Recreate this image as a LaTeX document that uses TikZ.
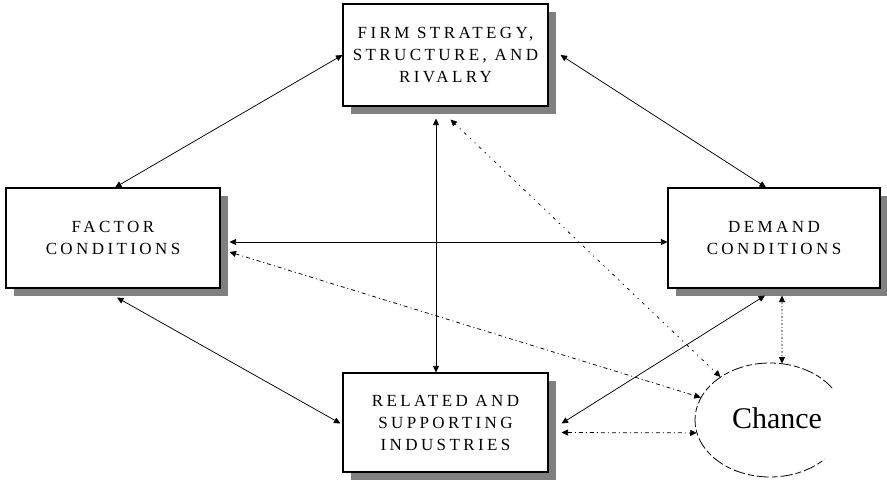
\documentclass[tikz,border=0pt]{standalone}
\usepackage{fontspec}
\setmainfont{Liberation Serif}
\newfontfamily\boxfont[LetterSpace=20]{Liberation Serif}
\usetikzlibrary{arrows.meta,calc,shadows,shapes.geometric}
\begin{document}
\begin{tikzpicture}[x=1pt,y=-1pt,
  box/.style={draw=black, line width=1.1pt, fill=white, inner sep=0pt,
    align=center, font=\boxfont\fontsize{17}{22}\selectfont,
    drop shadow={shadow xshift=8pt, shadow yshift=-8pt, fill=black!50, opacity=1}},
  conn/.style={line width=0.75pt, {Triangle[length=6.5pt,width=6pt]}-{Triangle[length=6.5pt,width=6pt]}},
  dashdot/.style={conn, dash pattern=on 4pt off 3pt on 1pt off 3pt},
  sparse/.style={conn, dash pattern=on 1.5pt off 5pt on 1pt off 5pt on 3pt off 5pt},
  dotline/.style={conn, dash pattern=on 2pt off 2pt on 1pt off 2pt},
  chancearc/.style={line width=0.8pt, dash pattern=on 12pt off 3pt on 6pt off 3pt}]
\useasboundingbox (0,0) rectangle (887,482);
\node[box, minimum width=205pt, minimum height=102pt] (firm) at (445.5,55) {FIRM STRATEGY,\\STRUCTURE, AND\\RIVALRY};
\node[box, minimum width=214pt, minimum height=100pt] (fac) at (113,238) {FACTOR\\CONDITIONS};
\node[box, minimum width=212pt, minimum height=100pt] (dem) at (774,238) {DEMAND\\CONDITIONS};
\node[box, minimum width=205pt, minimum height=99pt] (rel) at (445.5,422.5) {RELATED AND\\SUPPORTING\\INDUSTRIES};
\node[ellipse, minimum width=150pt, minimum height=114pt, inner sep=0pt] (ch) at (770,420) {};
\node[font=\fontsize{30}{34}\selectfont, inner sep=0pt] (chance) at (777,418) {Chance};
\draw[chancearc] ($(ch.center)+(-34:75 and 57)$) arc[start angle=-34, end angle=-317, x radius=75, y radius=57];
% solid connectors
\draw[conn] (firm.west) -- ($(fac.north)+(2,0)$);
\draw[conn] ($(firm.east)+(12,0)$) -- ($(dem.north)+(-8,0)$);
\draw[conn] ($(fac.east)+(9,4)$) -- ($(dem.west)+(0,4)$);
\draw[conn] ($(firm.south)+(-9.5,12)$) -- ($(rel.north)+(-9.5,0)$);
\draw[conn] ($(fac.south)+(4,9)$) -- ($(rel.west)+(-2,1)$);
\draw[conn] ($(dem.south)+(-9,7)$) -- ($(rel.east)+(13,1)$);
% dashed connectors to Chance
\draw[sparse] ($(firm.south)+(5,13)$) -- (ch.139);
\draw[dashdot] ($(fac.east)+(9,14)$) -- (ch.162);
\draw[dotline] ($(dem.south)+(8,7)$) -- (ch.78);
\draw[dashdot] ($(rel.east)+(13,10)$) -- (ch.190);
\end{tikzpicture}
\end{document}
